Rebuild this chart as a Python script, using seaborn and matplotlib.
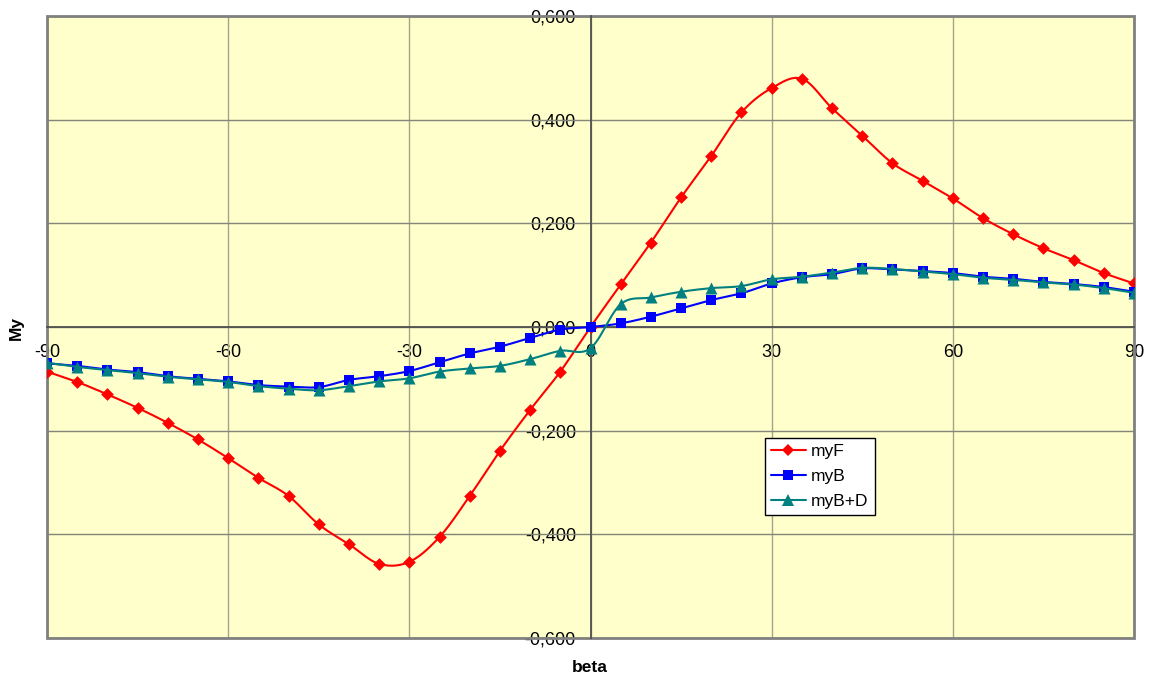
import numpy as np
import matplotlib
matplotlib.use("Agg")
import matplotlib.pyplot as plt
import seaborn as sns
from matplotlib.lines import Line2D
from matplotlib.patches import Rectangle

# ---------------- data ----------------
beta = list(range(-90, 91, 5))
myF = [-0.086, -0.106, -0.130, -0.156, -0.185, -0.217, -0.253, -0.291, -0.326,
       -0.381, -0.419, -0.457, -0.453, -0.405, -0.326, -0.239, -0.160, -0.086,
       0.000, 0.082, 0.163, 0.250, 0.330, 0.414, 0.461, 0.479, 0.422, 0.369,
       0.316, 0.282, 0.248, 0.210, 0.179, 0.152, 0.129, 0.104, 0.084]
myB = [-0.070, -0.075, -0.082, -0.087, -0.095, -0.100, -0.105, -0.112, -0.115,
       -0.116, -0.102, -0.095, -0.085, -0.068, -0.051, -0.038, -0.021, -0.005,
       0.000, 0.007, 0.020, 0.036, 0.052, 0.065, 0.084, 0.096, 0.102, 0.113,
       0.111, 0.108, 0.104, 0.097, 0.093, 0.087, 0.083, 0.077, 0.068]
myBD = [-0.069, -0.077, -0.083, -0.089, -0.096, -0.101, -0.106, -0.114, -0.119,
        -0.122, -0.114, -0.105, -0.099, -0.086, -0.080, -0.075, -0.062, -0.046,
        -0.041, 0.044, 0.057, 0.068, 0.075, 0.079, 0.092, 0.097, 0.105, 0.114,
        0.112, 0.107, 0.102, 0.095, 0.091, 0.086, 0.082, 0.075, 0.066]
series_names = ["myF", "myB", "myB+D"]
x_ticks = [-90, -60, -30, 0, 30, 60, 90]
x_tick_labels = ["-90", "-60", "-30", "0", "30", "60", "90"]
y_ticks = [-0.6, -0.4, -0.2, 0.0, 0.2, 0.4, 0.6]
y_tick_labels = ["-0,600", "-0,400", "-0,200", "0,000", "0,200", "0,400", "0,600"]
x_label = "beta"
y_label = "My"

# ---------------- style ----------------
sns.set_style("white")
plt.rcParams["font.family"] = ["Liberation Sans", "DejaVu Sans"]
plt.rcParams["text.color"] = "black"
plt.rcParams["xtick.color"] = "black"
plt.rcParams["ytick.color"] = "black"

fig = plt.figure(figsize=(11.49, 6.81), dpi=100)
ax = fig.add_axes([47 / 1149, 43 / 681, 1087 / 1149, 622 / 681])
ax.set_facecolor("#FFFFCC")


def smooth_curve(x, y, n=24):
    """Excel-style smoothed line (cubic Bezier through the data points)."""
    x = np.asarray(x, float)
    y = np.asarray(y, float)
    xp = np.concatenate([[x[0]], x, [x[-1]]])
    yp = np.concatenate([[y[0]], y, [y[-1]]])
    t = np.linspace(0, 1, n, endpoint=False)[:, None]
    pts = []
    for i in range(len(x) - 1):
        p0 = np.array([xp[i], yp[i]])
        p1 = np.array([xp[i + 1], yp[i + 1]])
        p2 = np.array([xp[i + 2], yp[i + 2]])
        p3 = np.array([xp[i + 3], yp[i + 3]])
        c1 = p1 + (p2 - p0) / 6.0
        c2 = p2 - (p3 - p1) / 6.0
        seg = ((1 - t) ** 3) * p1 + 3 * ((1 - t) ** 2) * t * c1 + 3 * (1 - t) * t ** 2 * c2 + t ** 3 * p2
        pts.append(seg)
    pts.append(np.array([[x[-1], y[-1]]]))
    pts = np.vstack(pts)
    return pts[:, 0], pts[:, 1]


colors = ["#FF0000", "#0000FF", "#008080"]
markers = ["D", "s", "^"]
sizes = [42, 52, 75]
all_series = [myF, myB, myBD]

z = 3
for vals, col, mk, sz in zip(all_series, colors, markers, sizes):
    sx, sy = smooth_curve(beta, vals)
    sns.lineplot(x=sx, y=sy, sort=False, estimator=None, color=col, lw=1.5,
                 ax=ax, zorder=z, legend=False)
    sns.scatterplot(x=beta, y=vals, marker=mk, color=col, s=sz, linewidth=0,
                    ax=ax, zorder=z + 0.5, legend=False)
    z += 1

ax.set_xlim(-90, 90)
ax.set_ylim(-0.6, 0.6)

# grid
for xv in x_ticks:
    ax.axvline(xv, color="#a4a48c", lw=1.0, zorder=1)
for yv in y_ticks:
    ax.axhline(yv, color="#84847a", lw=1.0, zorder=1)

# spines through origin
for s in ["top", "right"]:
    ax.spines[s].set_visible(False)
ax.spines["left"].set_position(("data", 0))
ax.spines["bottom"].set_position(("data", 0))
for s in ["left", "bottom"]:
    ax.spines[s].set_color("#505050")
    ax.spines[s].set_linewidth(1.3)
    ax.spines[s].set_zorder(2)

# plot frame
ax.add_patch(Rectangle((0, 0), 1, 1, transform=ax.transAxes, fill=False,
                       edgecolor="#808080", lw=2.0, zorder=2, clip_on=False))

ax.set_xticks(x_ticks)
ax.set_xticklabels(x_tick_labels)
ax.set_yticks(y_ticks)
ax.set_yticklabels(y_tick_labels)
ax.tick_params(axis="x", direction="out", length=4, width=1.2, color="#505050",
               labelcolor="black", labelsize=13, pad=8)
ax.tick_params(axis="y", direction="out", length=4, width=1.2, color="#505050",
               labelcolor="black", labelsize=13, pad=6.5)

ax.set_xlabel("")
ax.set_ylabel("")
fig.text(590 / 1149, 1 - 667 / 681, x_label, ha="center", va="center",
         fontsize=12.5, fontweight="bold", color="black")
fig.text(16 / 1149, 1 - 328 / 681, y_label, ha="center", va="center",
         fontsize=12.5, fontweight="bold", rotation=90, color="black")

handles = [Line2D([0], [0], color=c, marker=m, lw=1.5,
                  markersize=ms, markeredgewidth=0)
           for c, m, ms in zip(colors, markers, [6.0, 7.0, 8.5])]
leg = ax.legend(handles, series_names, loc="upper left",
                bbox_to_anchor=((765 - 47) / 1087, (638 - 438) / 622),
                frameon=True, fancybox=False, fontsize=12.5, handlelength=2.0,
                handletextpad=0.3, labelspacing=0.55, borderpad=0.35,
                borderaxespad=0)
for t in leg.get_texts():
    t.set_color("black")
leg.get_frame().set_edgecolor("black")
leg.get_frame().set_linewidth(1.0)
leg.get_frame().set_facecolor("white")
leg.get_frame().set_alpha(1)
leg.set_zorder(10)

fig.savefig("out.png", dpi=100)
